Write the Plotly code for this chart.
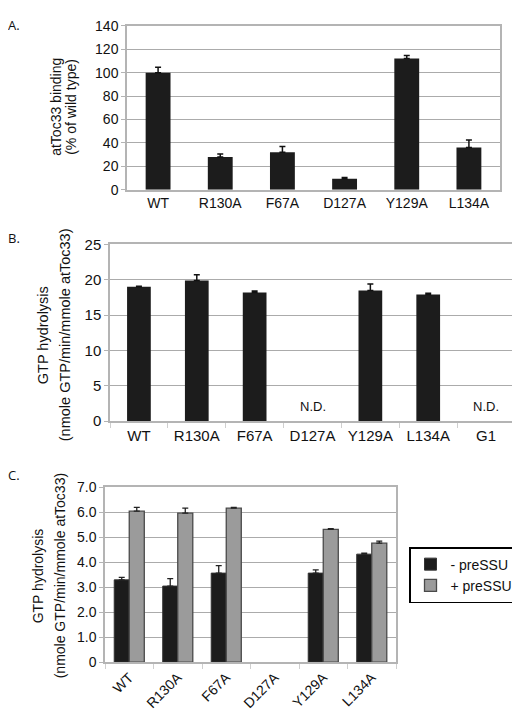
import plotly.graph_objects as go

# ---------------- data ----------------
a_categories = ["WT", "R130A", "F67A", "D127A", "Y129A", "L134A"]
a_binding = [100, 28, 32, 9.4, 112, 36]
a_binding_err = [4.7, 2.5, 5.0, 1.1, 2.7, 6.4]

b_categories = ["WT", "R130A", "F67A", "D127A", "Y129A", "L134A", "G1"]
b_hydrolysis = [19.0, 19.9, 18.2, None, 18.5, 17.9, None]
b_hydrolysis_err = [0.1, 0.8, 0.2, None, 0.9, 0.2, None]

c_categories = ["WT", "R130A", "F67A", "D127A", "Y129A", "L134A"]
c_minus_presu = [3.3, 3.05, 3.57, None, 3.57, 4.33]
c_minus_err = [0.1, 0.3, 0.3, None, 0.13, 0.04]
c_plus_presu = [6.05, 5.97, 6.17, None, 5.32, 4.77]
c_plus_err = [0.15, 0.2, 0.03, None, 0.03, 0.08]
c_series_names = ["- preSSU", "+ preSSU"]

a_ticks = [0, 20, 40, 60, 80, 100, 120, 140]
b_ticks = [0, 5, 10, 15, 20, 25]
c_ticks = [0, 1, 2, 3, 4, 5, 6, 7]
c_ticklabels = ["0", "1.0", "2.0", "3.0", "4.0", "5.0", "6.0", "7.0"]

# ---------------- layout helpers ----------------
W, H = 520, 712
FONT = "Arial, Liberation Sans, sans-serif"
GRID = "#ababab"
BORDER = "#b4b4b4"
BLACK_BAR = "#1c1c1c"
GRAY_BAR = "#9b9b9b"


def px(x):
    return x / W


def py(y):
    return 1 - y / H


def err_up(vals):
    return [0 if v is None else v for v in vals]


fig = go.Figure()

# Panel A
fig.add_trace(go.Bar(
    x=a_categories, y=a_binding, width=0.4,
    marker=dict(color=BLACK_BAR, line=dict(width=0)),
    error_y=dict(type="data", array=err_up(a_binding_err),
                 arrayminus=[0] * len(a_binding_err), color="#111111",
                 thickness=1.5, width=3),
    xaxis="x", yaxis="y", showlegend=False,
))

# Panel B
fig.add_trace(go.Bar(
    x=b_categories, y=b_hydrolysis, width=0.41,
    marker=dict(color=BLACK_BAR, line=dict(width=0)),
    error_y=dict(type="data", array=err_up(b_hydrolysis_err),
                 arrayminus=[0] * len(b_hydrolysis_err), color="#111111",
                 thickness=1.5, width=3),
    xaxis="x2", yaxis="y2", showlegend=False,
))

# Panel C
fig.add_trace(go.Bar(
    x=c_categories, y=c_minus_presu, name=c_series_names[0],
    width=0.31, offset=-0.31,
    marker=dict(color=BLACK_BAR, line=dict(color="#333333", width=1)),
    error_y=dict(type="data", array=err_up(c_minus_err),
                 arrayminus=[0] * len(c_minus_err), color="#222222",
                 thickness=1.3, width=3),
    xaxis="x3", yaxis="y3",
))
fig.add_trace(go.Bar(
    x=c_categories, y=c_plus_presu, name=c_series_names[1],
    width=0.31, offset=0,
    marker=dict(color=GRAY_BAR, line=dict(color="#4a4a4a", width=1.3)),
    error_y=dict(type="data", array=err_up(c_plus_err),
                 arrayminus=[0] * len(c_plus_err), color="#222222",
                 thickness=1.3, width=3),
    xaxis="x3", yaxis="y3",
))

tickfont = dict(family=FONT, size=14, color="#111111")
tickfont_b = dict(family=FONT, size=15, color="#111111")

common_y = dict(showgrid=True, gridcolor=GRID, gridwidth=1,
                showline=True, linecolor=BORDER, linewidth=1.5, mirror=True,
                ticks="outside", ticklen=4, tickcolor=BORDER,
                zeroline=False)
common_x = dict(type="category", showline=True, linecolor=BORDER,
                linewidth=1.5, mirror=True, showgrid=False)

fig.update_layout(
    width=W, height=H,
    margin=dict(l=0, r=0, t=0, b=0),
    paper_bgcolor="white", plot_bgcolor="white",
    barmode="group",
    font=dict(family=FONT, size=14, color="#111111"),
    xaxis=dict(domain=[px(119), px(492)], anchor="y",
               categoryorder="array", categoryarray=a_categories,
               range=[-0.5, len(a_categories) - 0.5], ticks="",
               tickfont=tickfont, **common_x),
    yaxis=dict(domain=[py(177), py(9)], anchor="x", range=[0, 140],
               tickvals=a_ticks, tickfont=tickfont, **common_y),
    xaxis2=dict(domain=[px(102), px(507)], anchor="y2",
                categoryorder="array", categoryarray=b_categories,
                range=[-0.5, len(b_categories) - 0.5],
                ticks="outside", tickson="boundaries", ticklen=5,
                tickcolor="#cfcfcf", tickfont=tickfont_b, **common_x),
    yaxis2=dict(domain=[py(414), py(233)], anchor="x2", range=[0, 25],
                tickvals=b_ticks, tickfont=tickfont_b, **common_y),
    xaxis3=dict(domain=[px(97), px(388)], anchor="y3",
                categoryorder="array", categoryarray=c_categories,
                range=[-0.5, len(c_categories) - 0.5],
                ticks="outside", tickson="boundaries", ticklen=5,
                tickcolor="#cfcfcf", tickangle=-45, tickfont=tickfont,
                **common_x),
    yaxis3=dict(domain=[py(661), py(482)], anchor="x3", range=[0, 7],
                tickvals=c_ticks, ticktext=c_ticklabels, tickfont=tickfont,
                **common_y),
    legend=dict(x=px(401), y=py(543), xanchor="left", yanchor="top",
                bordercolor="#000000", borderwidth=1.5, bgcolor="white",
                font=dict(family=FONT, size=14, color="#111111"),
                tracegroupgap=0, itemwidth=30),
)

annotations = []
# panel letters
for letter, (lx, ly) in {"A.": (6, 8), "B.": (6, 226), "C.": (6, 469)}.items():
    annotations.append(dict(text=letter, x=px(lx), y=py(ly), xref="paper",
                            yref="paper", showarrow=False, xanchor="center",
                            yanchor="middle",
                            font=dict(family="Open Sans, sans-serif", size=13,
                                      color="#111111")))

# y-axis titles (two lines each)
titles = [
    ("atToc33 binding", 48, 92, 14),
    ("(% of wild type)", 63, 92, 14),
    ("GTP hydrolysis", 35, 326, 14.5),
    ("(nmole GTP/min/mmole atToc33)", 57, 326, 14.5),
    ("GTP hydrolysis", 30, 573, 14),
    ("(nmole GTP/min/mmole atToc33)", 52, 573, 14),
]
for text, tx, ty, fs in titles:
    annotations.append(dict(text=text, x=px(tx), y=py(ty), xref="paper",
                            yref="paper", showarrow=False, textangle=-90,
                            xanchor="center", yanchor="middle",
                            font=dict(family=FONT, size=fs, color="#111111")))

# N.D. labels for undetermined values in panel B
for cat, val in zip(b_categories, b_hydrolysis):
    if val is None:
        annotations.append(dict(text="N.D.", x=cat, y=0, xref="x2", yref="y2",
                                showarrow=False, yanchor="bottom", yshift=5,
                                font=dict(family=FONT, size=13, color="#111111")))

fig.update_layout(annotations=annotations)

fig.write_html("out.html")
